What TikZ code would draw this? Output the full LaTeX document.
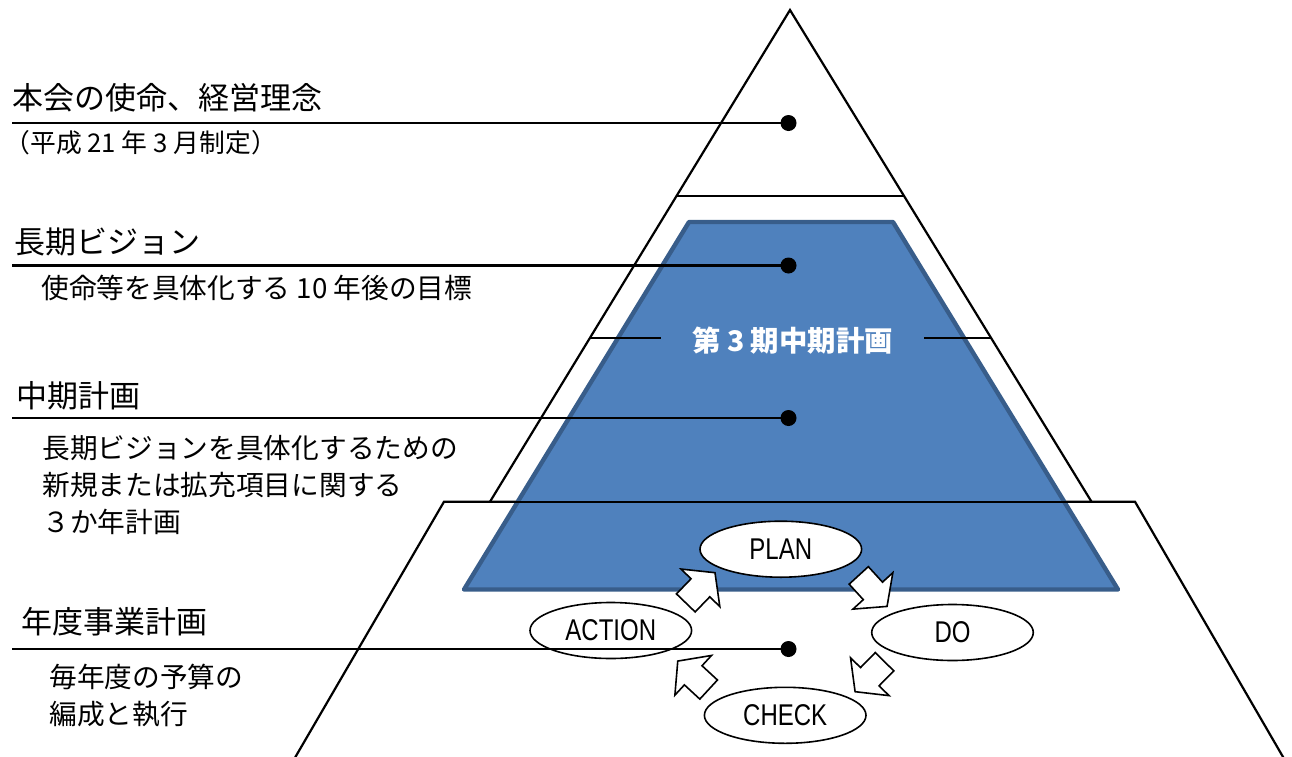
\documentclass[tikz,border=0pt]{standalone}
\usepackage{fontspec}
\setmainfont{Noto Sans CJK JP}
\newfontfamily\pdcafont[FakeStretch=0.8]{Liberation Sans}
\usetikzlibrary{shapes.geometric}
\definecolor{pblue}{HTML}{4F81BD}
\definecolor{pborder}{HTML}{385D8A}
\begin{document}
\begin{tikzpicture}[x=0.5pt,y=-0.5pt,
  edge/.style={line width=1.1pt, line join=miter},
  lbl/.style={anchor=west, inner sep=0pt, font=\fontsize{15.5}{18}\selectfont},
  desc/.style={anchor=west, inner sep=0pt, align=left, font=\fontsize{13.85}{18.5}\selectfont},
  note/.style={anchor=west, inner sep=0pt, font=\fontsize{12.9}{15}\selectfont},
  dot/.style={circle, fill=black, minimum size=8pt, inner sep=0pt},
  phase/.style={ellipse, draw, fill=white, line width=0.8pt, minimum width=80.8pt, minimum height=28pt, inner sep=0pt, font=\pdcafont\fontsize{15}{17}\selectfont},
  blockarrow/.style={draw, fill=white, line width=0.8pt, line join=miter},
  pics/barrow/.style={code={\path[blockarrow] (-21,-13) -- (0,-13) -- (0,-27) -- (21,0) -- (0,27) -- (0,13) -- (-21,13) -- cycle;}}
]
\useasboundingbox (0,0) rectangle (1292,756);
\clip (0,0) rectangle (1292,756);

% pyramid outline
\coordinate (apex) at (790,10);
\coordinate (pbl) at (490,501.7);
\coordinate (pbr) at (1091.5,501.7);
\draw[edge] (pbl) -- (apex) -- (pbr);
\draw[edge] (676.7,195.7) -- (903.5,195.7);
% bottom trapezoid
\coordinate (btl) at (444,501.7);
\coordinate (btr) at (1135,501.7);
\draw[edge] (282,780) -- (btl) -- (btr) -- (1296.4,780);

% blue trapezoid
\draw[fill=pblue, draw=pborder, line width=2.2pt, line join=round]
  (689,222) -- (893,222) -- (1118,589.5) -- (464,589.5) -- cycle;

\draw[edge] (btl) -- (btr);
\draw[line width=1.4pt] (589.9,338) -- (661,338);
\draw[line width=1.4pt] (924,338) -- (990.8,338);

\node[text=white, inner sep=0pt, font=\bfseries\fontsize{14.2}{16}\selectfont] (mid) at (792.5,340.5) {第 3 期中期計画};

% labels
\node[lbl] (t1) at (12,98) {本会の使命、経営理念};
\node[note] (s1) at (4,142.5) {（平成 21 年 3 月制定）};
\node[lbl] (t2) at (14,241.5) {長期ビジョン};
\node[desc] (s2) at (41,288) {使命等を具体化する 10 年後の目標};
\node[lbl] (t3) at (16,396) {中期計画};
\node[desc] (s3) at (42,485) {長期ビジョンを具体化するための\\新規または拡充項目に関する\\３か年計画};
\node[lbl] (t4) at (21,621.5) {年度事業計画};
\node[desc] (s4) at (49,696) {毎年度の予算の\\編成と執行};

% leader lines and dots
\node[dot] (d1) at (788.5,123) {};
\node[dot] (d2) at (788.5,265.5) {};
\node[dot] (d3) at (788.5,418) {};
\coordinate (e1) at (12,123);
\coordinate (e2) at (12,265.5);
\coordinate (e3) at (12,418);
\draw[edge] (e1) -- (d1.center);
\draw[edge] (e2) -- (d2.center);
\draw[edge] (e3) -- (d3.center);

% PDCA
\node[phase] (plan) at (780.8,549.2) {PLAN};
\node[phase] (action) at (610.8,630.5) {ACTION};
\node[phase] (do) at (952.5,632.5) {DO};
\node[phase] (check) at (785.2,715.3) {CHECK};

\pic[rotate=46] at (700.4,587.8) {barrow};
\pic[rotate=-47.6] at (872.9,590.9) {barrow};
\pic[rotate=-134.5] at (869.8,676.7) {barrow};
\pic[rotate=137.3] at (693.2,675.3) {barrow};

\coordinate (e4) at (12,649);
\draw[edge] (e4) -- (788.5,649) node[dot] (d4) {};
\end{tikzpicture}
\end{document}
